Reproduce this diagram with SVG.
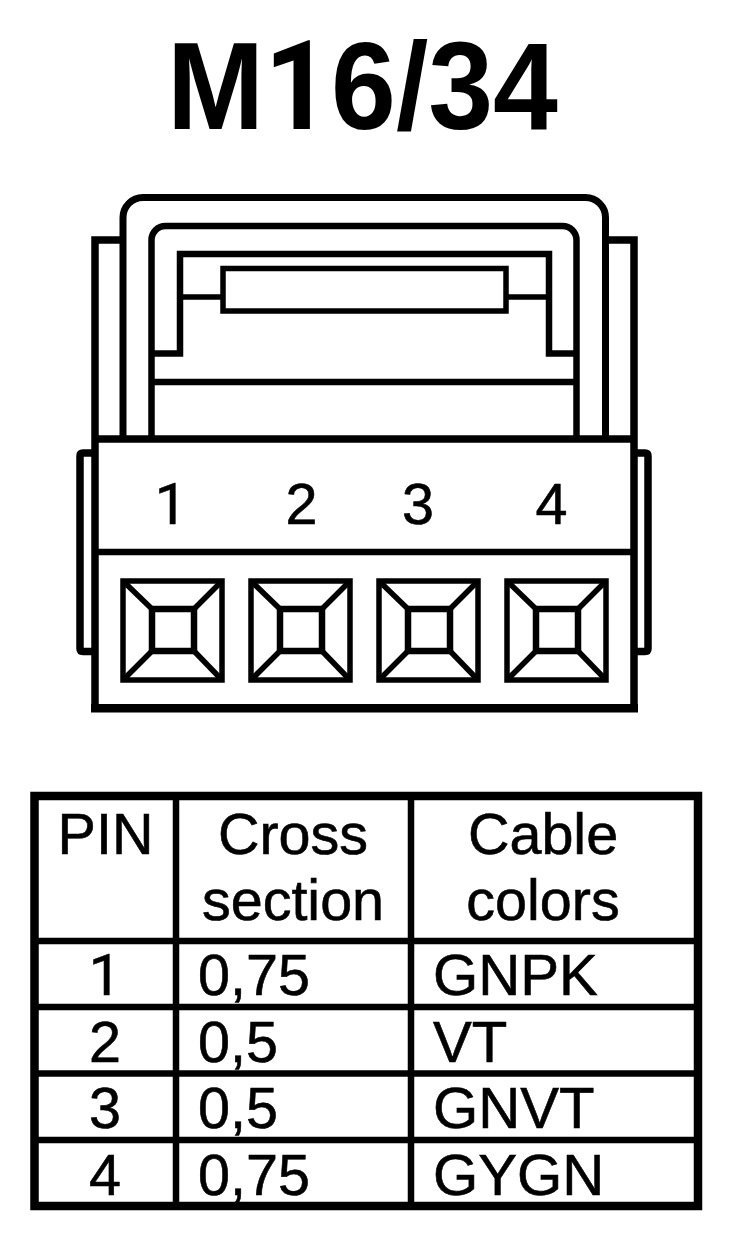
<svg xmlns="http://www.w3.org/2000/svg" width="752" height="1252" viewBox="0 0 752 1252">
<style>
.l{fill:none;stroke:#000;stroke-width:6.5;stroke-linejoin:miter}
.h{stroke-width:7.5}
.d{stroke-width:5.5}
.b{stroke-width:8.5}
.o{stroke-width:7}
.f{stroke-width:8.5}
text{font-family:"Liberation Sans",Arial,sans-serif;fill:#000}
.t{font-size:57.5px;stroke:#000;stroke-width:.6}
.g{font-size:58.2px;stroke:#000;stroke-width:.6}
.c{text-anchor:middle}
.r{font-family:Roboto,"Liberation Sans",sans-serif}
</style>
<defs>
<g id="sq"><rect class="l d" x="0" y="0" width="99" height="99"/><rect class="l" x="29" y="28" width="42" height="42"/><path class="l d" d="M0 0L29 28M99 0L71 28M0 99L29 70M99 99L71 70"/></g>
</defs>
<rect width="752" height="1252" fill="#fff"/>
<text id="title" transform="translate(362.500 129) scale(1.005 1.065)" class="c" font-size="116" font-weight="bold">M<tspan class="r">1</tspan>6/34</text>
<g id="connector">
<path class="l o" d="M123 439V217.500A20 20 0 0 1 143 197.500H585.500A20 20 0 0 1 605.500 217.500V439"/>
<path class="l" d="M151.500 439V240A14 14 0 0 1 165.500 226H562.500A14 14 0 0 1 576.500 240V439"/>
<path class="l" d="M151.500 353.500H180V254H549V353.500H576.500"/>
<path class="l" d="M151.500 382H576.500"/>
<rect class="l d" x="223" y="268.500" width="283" height="42.500"/>
<path class="l d" d="M180 297H223M506 297H549"/>
<path class="l h" d="M123 240H95V708M606 240H634V708"/>
<path class="l b" d="M91 708.300H638"/>
<path class="l h" d="M95 439H634"/>
<path class="l" d="M95 552H634"/>
<path class="l h" d="M95 453H83Q80 453 80 456V648.500Q80 651.500 83 651.500H95M634 453H645Q648 453 648 456V648.500Q648 651.500 645 651.500H634"/>
<use href="#sq" x="123" y="581"/><use href="#sq" x="251" y="581"/><use href="#sq" x="379" y="581"/><use href="#sq" x="507" y="581"/>
<text x="171" y="524" class="t c r">1</text><text x="301.500" y="524" class="t c">2</text><text x="418" y="524" class="t c">3</text><text x="551.500" y="524" class="t c">4</text>
</g>
<g id="table">
<rect class="l f" x="34.500" y="796" width="663.500" height="410"/>
<path class="l" d="M176 796V1206M411 796V1206M34 941H698M34 1007H698M34 1073.500H698M34 1140H698"/>
<text x="105.500" y="854" class="t c">PIN</text>
<text x="293" y="854" class="t c">Cross</text><text x="293" y="920" class="t c">section</text>
<text x="543" y="854" class="t c">Cable</text><text x="543" y="920" class="t c">colors</text>
<text x="105" y="995" class="t c r">1</text><text x="105" y="1062" class="t c">2</text><text x="105" y="1128" class="t c">3</text><text x="105" y="1195" class="t c">4</text>
<text x="198" y="995" class="t">0,75</text><text x="198" y="1062" class="t">0,5</text><text x="198" y="1128" class="t">0,5</text><text x="198" y="1195" class="t">0,75</text>
<text x="433" y="995" class="g">GNPK</text><text x="433" y="1062" class="g">VT</text><text x="433" y="1128" class="g">GNVT</text><text x="433" y="1195" class="g">GYGN</text>
</g>
</svg>
